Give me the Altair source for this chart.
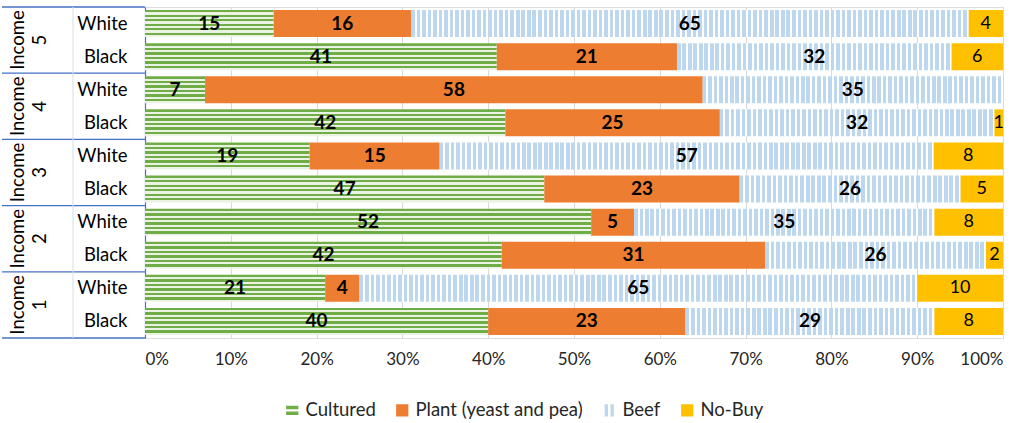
import altair as alt
import pandas as pd

# ---------------- data ----------------
incomes = ["5", "4", "3", "2", "1"]
races = ["White", "Black"]
categories = ["Cultured", "Plant (yeast and pea)", "Beef", "No-Buy"]

# rows ordered top to bottom: 5 White, 5 Black, 4 White, ... 1 Black
cultured = [15, 41, 7, 42, 19, 47, 52, 42, 21, 40]
plant = [16, 21, 58, 25, 15, 23, 5, 31, 4, 23]
beef = [65, 32, 35, 32, 57, 26, 35, 26, 65, 29]
nobuy = [4, 6, 0, 1, 8, 5, 8, 2, 10, 8]

colors = ["#70AD47", "#ED7D31", "#BDD7EE", "#FFC000"]

# ---------------- layout / style ----------------
W, H = 858, 331
BAR_H = 27
FONT = "Lato"
BLUE = "#4472C4"

keys = [f"{i}|{r}" for i in incomes for r in races]


def hstripes(c1, c2, period_px, on_px, height_px):
    n = int(round(height_px / period_px))
    stops = []
    for k in range(n):
        a = k / n
        b = (k + on_px / period_px) / n
        c = (k + 1) / n
        stops += [{"offset": a, "color": c1}, {"offset": b, "color": c1},
                  {"offset": b, "color": c2}, {"offset": c, "color": c2}]
    return {"gradient": "linear", "x1": 0, "y1": 0, "x2": 0, "y2": 1, "stops": stops}


def vstripes(c1, c2, period_px, on_px, width_px):
    n = max(1, int(round(width_px / period_px)))
    stops = []
    for k in range(n):
        a = k / n
        b = (k + on_px / period_px) / n
        c = (k + 1) / n
        stops += [{"offset": a, "color": c1}, {"offset": b, "color": c1},
                  {"offset": b, "color": c2}, {"offset": c, "color": c2}]
    return {"gradient": "linear", "x1": 0, "y1": 0, "x2": 1, "y2": 0, "stops": stops}


series = [cultured, plant, beef, nobuy]
recs = []
for ri, key in enumerate(keys):
    vals = [s[ri] for s in series]
    tot = sum(vals)
    cum = 0
    for ci, cat in enumerate(categories):
        v = vals[ci]
        start = cum / tot
        cum += v
        end = cum / tot
        if cat == "Cultured":
            fill = hstripes("#70AD47", "#EAF3E3", 4.5, 2.4, BAR_H)
        elif cat == "Beef":
            fill = vstripes("#BDD7EE", "#FFFFFF", 5.5, 3.6, (end - start) * W)
        else:
            fill = colors[ci]
        recs.append({"key": key, "cat": cat, "start": start, "end": end,
                     "mid": (start + end) / 2, "label": str(v) if v > 0 else "",
                     "fill": fill, "bold": cat != "No-Buy"})
df = pd.DataFrame(recs)

yenc = alt.Y("key:N", scale=alt.Scale(domain=keys, paddingInner=0, paddingOuter=0),
             axis=alt.Axis(title=None, labelExpr="split(datum.value, '|')[1]",
                           labelFontSize=18.5, labelColor="#000000", labelPadding=18,
                           ticks=False, domainColor=BLUE, domainWidth=1.2, grid=False,
                           labelFont=FONT))

xscale = alt.Scale(domain=[0, 1], nice=False, zero=False)

bars = alt.Chart(df).mark_bar(height=BAR_H, strokeWidth=0).encode(
    x=alt.X("start:Q", scale=xscale,
            axis=alt.Axis(title=None, format=".0%", values=[i / 10 for i in range(11)],
                          domain=False, ticks=False, labelFontSize=17, labelColor="#262626",
                          labelPadding=13, gridColor="#D9D9D9", labelFont=FONT)),
    x2="end:Q",
    y=yenc,
    fill=alt.Fill("fill:N", scale=None, legend=None),
)

txt_bold = alt.Chart(df[(df["bold"]) & (df["label"] != "")]).mark_text(
    fontSize=19, fontWeight="bold", color="#000000", font=FONT, baseline="middle"
).encode(x=alt.X("mid:Q", scale=xscale), y=alt.Y("key:N"), text="label:N")

txt_reg = alt.Chart(df[(~df["bold"]) & (df["label"] != "")]).mark_text(
    fontSize=18, color="#000000", font=FONT, baseline="middle"
).encode(x=alt.X("mid:Q", scale=xscale), y=alt.Y("key:N"), text="label:N")

# left table decoration
inc_df = pd.DataFrame({"key": [f"{i}|White" for i in incomes],
                       "txt": [f"Income\n{i}" for i in incomes]})
inc_txt = alt.Chart(inc_df).mark_text(
    angle=270, align="center", baseline="middle", fontSize=18.5, lineHeight=22,
    lineBreak="\n", color="#000000", font=FONT
).encode(x=alt.value(-127), y=alt.Y("key:N", bandPosition=1), text="txt:N")

top_rules = alt.Chart(inc_df).mark_rule(color=BLUE, strokeWidth=1.3).encode(
    x=alt.value(-143), x2=alt.value(0), y=alt.Y("key:N", bandPosition=0))
bot_rule = alt.Chart(pd.DataFrame({"key": [keys[-1]]})).mark_rule(color=BLUE, strokeWidth=1.3).encode(
    x=alt.value(-143), x2=alt.value(0), y=alt.Y("key:N", bandPosition=1))
mid_rule = alt.Chart(pd.DataFrame({"key": [keys[0]]})).mark_rule(color="#D5DCEA", strokeWidth=1).encode(
    x=alt.value(-72), y=alt.value(0), y2=alt.value(H))

# legend via dummy layer
shapes = ["M-1,-0.75H1V-0.2H-1Z M-1,0.2H1V0.75H-1Z", "square",
          "M-0.75,-1H-0.2V1H-0.75Z M0.2,-1H0.75V1H0.2Z", "square"]
leg_df = pd.DataFrame({"cat": categories})
legend_layer = alt.Chart(leg_df).mark_point(filled=True, opacity=0).encode(
    x=alt.value(0), y=alt.value(0),
    color=alt.Color("cat:N", scale=alt.Scale(domain=categories, range=colors),
                    legend=alt.Legend(title=None, orient="none", legendX=138, legendY=394,
                                      direction="horizontal", labelFontSize=18.5,
                                      labelColor="#262626", symbolSize=150,
                                      symbolStrokeWidth=0, symbolOpacity=1, labelLimit=0,
                                      columnPadding=17, labelFont=FONT, labelOffset=4)),
    shape=alt.Shape("cat:N", scale=alt.Scale(domain=categories, range=shapes), legend=None),
)

chart = alt.layer(legend_layer, bars, txt_bold, txt_reg, top_rules, bot_rule, mid_rule, inc_txt).properties(
    width=W, height=H,
    autosize=alt.AutoSizeParams(type="none"),
    padding={"left": 145, "top": 7, "right": 29, "bottom": 85},
).configure_view(stroke=None).configure(font=FONT)

chart.save("out.html", embed_options={"renderer": "svg", "actions": False})
